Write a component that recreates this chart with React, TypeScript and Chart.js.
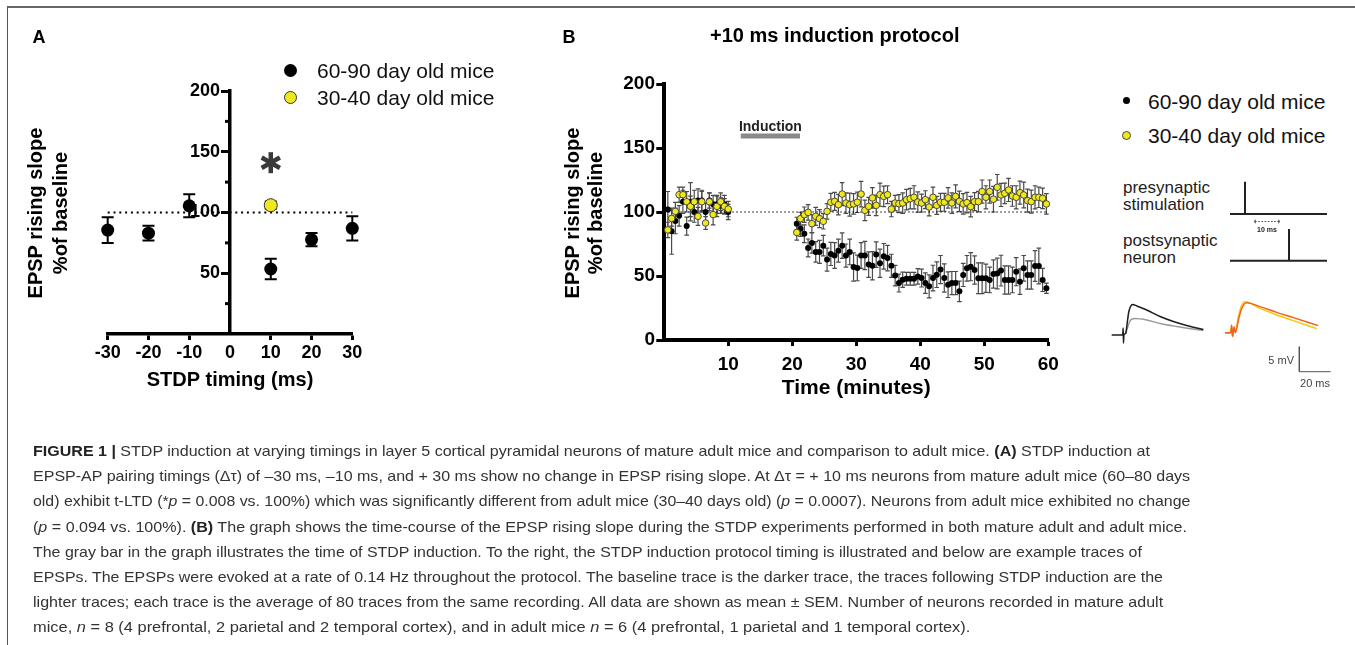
import React, { useEffect, useLayoutEffect, useRef } from 'react';
import { Chart, registerables } from 'chart.js';
Chart.register(...registerables);

const FONT = '"Liberation Sans", Arial, Helvetica, sans-serif';
const YELLOW = '#f0e81e';

// ---------- Panel A ----------
const A_TIMINGS = [-30, -20, -10, 10, 20, 30];
const A_MATURE_MEAN = [85.5, 83, 105.5, 53.5, 77.7, 87];
const A_MATURE_SEM = [10.5, 6, 9.5, 8.5, 5.5, 10];
const A_ADULT_TIMINGS = [10];
const A_ADULT_MEAN = [106];
const A_ADULT_SEM = [3];
const A_X_TICKS = [-30, -20, -10, 0, 10, 20, 30];
const A_Y_TICKS = [0, 50, 100, 150, 200];
const A_Y_MINOR = [25, 75, 125, 175];
const A_BASELINE = 100;
const A_STAR_X = 10;
const A_STAR_Y = 141;

// ---------- Panel B ----------
const B_BASE_TIMES = [0.55, 1.14, 1.73, 2.32, 2.91, 3.5, 4.09, 4.68, 5.27, 5.86, 6.45, 7.04, 7.63, 8.22, 8.81, 9.4, 9.99];
const B_MATURE_BASE = [102, 85, 93, 97, 108, 89, 108, 100, 109, 109, 100, 109, 106, 106, 105, 106, 100];
const B_MATURE_BASE_SEM = [14, 18, 10, 8, 9, 7, 15, 8, 9, 8, 7, 6, 7, 7, 6, 7, 6];
const B_ADULT_BASE = [86, 95, 100.5, 113.5, 113.5, 108, 104.4, 108, 96.6, 108, 91.4, 108, 98, 104.4, 108, 104.4, 102.3];
const B_ADULT_BASE_SEM = [6, 6, 7, 6, 6, 8, 8, 9, 7, 8, 5, 7, 8, 8, 7, 6, 6];

const B_POST_TIMES = [
  20.7, 21.29, 21.88, 22.47, 23.06, 23.66, 24.25, 24.84, 25.43, 26.02,
  26.61, 27.2, 27.79, 28.38, 28.97, 29.57, 30.16, 30.75, 31.34, 31.93,
  32.52, 33.11, 33.7, 34.29, 34.88, 35.48, 36.07, 36.66, 37.25, 37.84,
  38.43, 39.02, 39.61, 40.2, 40.79, 41.38, 41.98, 42.57, 43.16, 43.75,
  44.34, 44.93, 45.52, 46.11, 46.7, 47.29, 47.88, 48.48, 49.07, 49.66,
  50.25, 50.84, 51.43, 52.02, 52.61, 53.2, 53.79, 54.39, 54.98, 55.57,
  56.16, 56.75, 57.34, 57.93, 58.52, 59.11, 59.7,
];
const B_MATURE_POST = [
  90.9, 87, 83, 71.9, 75.8, 68.8, 68.8, 73.7, 62.8, 67.2,
  66, 69.8, 73.7, 66, 68.8, 57, 56.3, 66, 66, 58.9,
  58, 66.7, 60, 65.4, 64, 58, 50.3, 44.5, 47.1, 47.9,
  47.9, 47.9, 49.7, 48.4, 44.5, 41.9, 48.4, 51, 55, 48.4,
  43.2, 44.5, 44.5, 38, 50.8, 56, 57.3, 54.7, 48.2, 48.2,
  48.2, 46.9, 51.6, 52, 54.2, 46.9, 46.9, 46.9, 53.4, 45.6,
  56, 50.8, 50.8, 57.8, 57.8, 46.9, 40.4,
];
const B_MATURE_POST_SEM = [
  5, 6, 7, 7, 8, 8, 9, 8, 9, 9,
  10, 9, 10, 9, 10, 11, 10, 10, 11, 10,
  11, 10, 11, 10, 10, 9, 8, 7, 6, 5,
  5, 5, 6, 7, 8, 9, 10, 10, 11, 11,
  10, 9, 9, 8, 9, 10, 11, 11, 12, 12,
  11, 10, 11, 12, 12, 11, 11, 10, 11, 10,
  10, 11, 11, 12, 14, 9, 4,
];
const B_ADULT_POST = [
  84, 94.8, 97.9, 99.7, 90.9, 96.6, 94.8, 92.7, 100.5, 107.6,
  108.3, 105.7, 114, 107, 105.7, 106.3, 107.6, 114, 101.3, 104.4,
  111, 105.2, 113.5, 112.2, 113.5, 102.3, 107, 106.5, 107, 109.6,
  110.4, 111.5, 107.8, 107, 109.6, 103.9, 111.5, 105.2, 107.6, 107.6,
  111, 107, 112.2, 108.3, 106.3, 107.3, 104.2, 108.1, 108.1, 116,
  111.5, 116, 110, 119.3, 113.3, 114.6, 117.2, 112.5, 111.5, 115.1,
  113.3, 108.9, 108.1, 111.5, 111.5, 110.7, 106.3,
];
const B_ADULT_POST_SEM = [
  6, 5, 6, 6, 7, 7, 7, 6, 6, 7,
  7, 8, 9, 8, 9, 8, 8, 10, 8, 7,
  8, 8, 9, 8, 7, 6, 6, 7, 8, 8,
  8, 9, 8, 7, 7, 7, 8, 7, 7, 7,
  8, 8, 9, 8, 8, 8, 8, 7, 8, 9,
  9, 9, 10, 10, 9, 8, 9, 8, 9, 9,
  10, 9, 9, 9, 8, 8, 8,
];
const B_X_TICKS = [0, 10, 20, 30, 40, 50, 60];
const B_Y_TICKS = [0, 50, 100, 150, 200];
const B_BASELINE = 100;
const B_INDUCTION_START = 11.95;
const B_INDUCTION_END = 21.2;
const B_INDUCTION_BAR_Y = 159.4;
const B_INDUCTION_LABEL_Y = 166.6;

// ---------- Example traces (ms, mV) ----------
const TR_BLACK_MS = [0, 7.0, 7.3, 7.5, 7.8, 8.9, 9.8, 10.8, 12.0, 13.4, 16.0, 22.3, 30.8, 39.3, 47.8, 58.4];
const TR_BLACK_MV = [0, 0, 1.4, -1.6, 0, 0.3, 2.2, 4.5, 5.7, 6.1, 5.8, 5.0, 3.7, 2.7, 1.9, 1.1];
const TR_GRAY_MS = [8.9, 10.0, 11.5, 13.0, 14.9, 22.3, 30.8, 41.4, 58.4];
const TR_GRAY_MV = [0.3, 1.4, 2.7, 3.2, 3.3, 3.0, 2.3, 1.7, 0.9];
const TR_ORANGE_MS = [72.2, 75.8, 76.4, 77.1, 77.9, 78.8, 80.7, 82.8, 86.0, 94.5, 105.1, 115.7, 131.6];
const TR_ORANGE_MV = [0.47, 0.47, 2.0, -0.33, 1.67, 0.47, 3.0, 5.3, 6.47, 5.67, 4.53, 3.47, 1.87];
const TR_YELLOW_MS = [72.2, 75.4, 76.0, 76.7, 77.5, 78.8, 80.7, 82.8, 84.9, 94.5, 105.1, 115.7, 130.6];
const TR_YELLOW_MV = [0.33, 0.33, 1.33, -0.2, 0.87, 0.67, 3.67, 6.0, 6.67, 5.33, 4.0, 2.87, 1.27];
const SCALE_ORIGIN_MS = 119.5;
const SCALE_ORIGIN_MV = -7.34;
const SCALE_MS = 20;
const SCALE_MV = 5;

const pts = (xs: number[], ys: number[]) => xs.map((x, i) => ({ x, y: ys[i] }));

const errorBarsPlugin = {
  id: 'errorBars',
  beforeDatasetsDraw(chart: any) {
    const { ctx } = chart;
    const ys = chart.scales.y;
    chart.data.datasets.forEach((ds: any, i: number) => {
      if (!ds.sem) return;
      const meta = chart.getDatasetMeta(i);
      ctx.save();
      ctx.strokeStyle = ds.semColor;
      ctx.lineWidth = ds.semWidth;
      meta.data.forEach((el: any, j: number) => {
        const v = ds.data[j].y;
        const e = ds.sem[j];
        const x = el.x;
        const t = ys.getPixelForValue(v + e);
        const b = ys.getPixelForValue(v - e);
        const c = ds.semCap;
        ctx.beginPath();
        ctx.moveTo(x, t); ctx.lineTo(x, b);
        ctx.moveTo(x - c, t); ctx.lineTo(x + c, t);
        ctx.moveTo(x - c, b); ctx.lineTo(x + c, b);
        ctx.stroke();
      });
      ctx.restore();
    });
  },
};

const panelAPlugin = {
  id: 'panelA',
  afterDraw(chart: any) {
    const { ctx } = chart;
    const xs = chart.scales.x;
    const ys = chart.scales.y;
    const x0 = xs.getPixelForValue(0);
    ctx.save();
    ctx.strokeStyle = '#000';
    ctx.lineWidth = 3;
    A_Y_MINOR.forEach((v) => {
      const y = ys.getPixelForValue(v);
      ctx.beginPath();
      ctx.moveTo(x0, y);
      ctx.lineTo(x0 - 5, y);
      ctx.stroke();
    });
    // asterisk
    const sx = xs.getPixelForValue(A_STAR_X);
    const sy = ys.getPixelForValue(A_STAR_Y);
    ctx.strokeStyle = '#3a3a3a';
    ctx.lineWidth = 4.5;
    [90, 30, 150].forEach((deg) => {
      const r = (deg * Math.PI) / 180;
      const dx = Math.cos(r) * 10.5;
      const dy = Math.sin(r) * 10.5;
      ctx.beginPath();
      ctx.moveTo(sx - dx, sy - dy);
      ctx.lineTo(sx + dx, sy + dy);
      ctx.stroke();
    });
    ctx.restore();
  },
};

const panelBPlugin = {
  id: 'panelB',
  afterDatasetsDraw(chart: any) {
    const { ctx } = chart;
    const xs = chart.scales.x;
    const ys = chart.scales.y;
    ctx.save();
    ctx.strokeStyle = '#8a8a8a';
    ctx.lineWidth = 5;
    const by = ys.getPixelForValue(B_INDUCTION_BAR_Y);
    ctx.beginPath();
    ctx.moveTo(xs.getPixelForValue(B_INDUCTION_START), by);
    ctx.lineTo(xs.getPixelForValue(B_INDUCTION_END), by);
    ctx.stroke();
    ctx.fillStyle = '#222';
    ctx.font = `bold 14px ${FONT}`;
    ctx.textAlign = 'center';
    ctx.textBaseline = 'middle';
    ctx.fillText('Induction', xs.getPixelForValue((B_INDUCTION_START + B_INDUCTION_END) / 2), ys.getPixelForValue(B_INDUCTION_LABEL_Y));
    ctx.restore();
  },
};

function hideZero(c: any) {
  return c.tick && c.tick.value === 0 ? 'rgba(0,0,0,0)' : '#000';
}

function configA(): any {
  return {
    type: 'scatter',
    data: {
      datasets: [
        {
          label: '30-40 day old mice',
          data: pts(A_ADULT_TIMINGS, A_ADULT_MEAN),
          sem: A_ADULT_SEM, semColor: '#000', semWidth: 2, semCap: 6,
          pointRadius: 6.5, pointBackgroundColor: YELLOW, pointBorderColor: '#333', pointBorderWidth: 1, clip: false,
        },
        {
          label: '60-90 day old mice',
          data: pts(A_TIMINGS, A_MATURE_MEAN),
          sem: A_MATURE_SEM, semColor: '#000', semWidth: 2, semCap: 6,
          pointRadius: 6.5, pointBackgroundColor: '#000', pointBorderColor: '#000', pointBorderWidth: 0, clip: false,
        },
        {
          label: 'baseline',
          data: [{ x: A_X_TICKS[0], y: A_BASELINE }, { x: A_X_TICKS[A_X_TICKS.length - 1], y: A_BASELINE }],
          showLine: true, borderColor: '#000', borderWidth: 2.2, borderDash: [2, 3.8], pointRadius: 0, clip: false,
        },
      ],
    },
    options: {
      responsive: false, animation: false, events: [],
      layout: { padding: { left: 107.7, right: 67.7, top: 91, bottom: 0 } },
      plugins: { legend: { display: false }, tooltip: { enabled: false } },
      scales: {
        x: {
          type: 'linear', position: 'bottom', min: -30, max: 30,
          afterBuildTicks: (s: any) => { s.ticks = A_X_TICKS.map((v) => ({ value: v })); },
          afterFit: (s: any) => { s.height = 66; },
          border: { display: true, width: 3.5, color: '#000' },
          grid: { display: true, drawOnChartArea: false, drawTicks: true, tickLength: 6, tickWidth: 3, tickColor: hideZero },
          ticks: { font: { family: FONT, size: 18, weight: 'bold' }, color: '#000', padding: 2, maxRotation: 0, autoSkip: false },
          title: { display: true, text: 'STDP timing (ms)', font: { family: FONT, size: 20, weight: 'bold' }, color: '#000', padding: { top: 0, bottom: 8 } },
        },
        y: {
          type: 'linear', position: { x: 0 }, min: 0, max: 200,
          afterBuildTicks: (s: any) => { s.ticks = A_Y_TICKS.map((v) => ({ value: v })); },
          border: { display: true, width: 3.5, color: '#000' },
          grid: { display: true, drawOnChartArea: false, drawTicks: true, tickLength: 7, tickWidth: 3, tickColor: hideZero },
          // the axis sits at x = 0, so the label gap to the axis is made with two trailing spaces
          ticks: { callback: (v: any) => (v === 0 ? '' : String(v) + '  '), font: { family: FONT, size: 18, weight: 'bold' }, color: '#000', padding: 3, autoSkip: false },
        },
      },
    },
    plugins: [errorBarsPlugin, panelAPlugin],
  };
}

function configB(): any {
  return {
    type: 'scatter',
    data: {
      datasets: [
        {
          label: '30-40 day old mice',
          data: pts(B_BASE_TIMES.concat(B_POST_TIMES), B_ADULT_BASE.concat(B_ADULT_POST)),
          sem: B_ADULT_BASE_SEM.concat(B_ADULT_POST_SEM), semColor: '#4a4a4a', semWidth: 1.2, semCap: 2.3,
          pointRadius: 3.3, pointBackgroundColor: YELLOW, pointBorderColor: '#3a3a3a', pointBorderWidth: 0.9, clip: false,
        },
        {
          label: '60-90 day old mice',
          data: pts(B_BASE_TIMES.concat(B_POST_TIMES), B_MATURE_BASE.concat(B_MATURE_POST)),
          sem: B_MATURE_BASE_SEM.concat(B_MATURE_POST_SEM), semColor: '#4a4a4a', semWidth: 1.2, semCap: 2.3,
          pointRadius: 3.0, pointBackgroundColor: '#000', pointBorderColor: '#000', pointBorderWidth: 0, clip: false,
        },
        {
          label: 'baseline',
          data: [{ x: B_X_TICKS[0], y: B_BASELINE }, { x: B_X_TICKS[B_X_TICKS.length - 1], y: B_BASELINE }],
          showLine: true, borderColor: '#000', borderWidth: 1, borderDash: [1.5, 2.5], pointRadius: 0, clip: false,
        },
      ],
    },
    options: {
      responsive: false, animation: false, events: [],
      layout: { padding: { left: 104.3, right: 31.7, top: 64, bottom: 0 } },
      plugins: { legend: { display: false }, tooltip: { enabled: false } },
      scales: {
        x: {
          type: 'linear', position: 'bottom', min: 0, max: 60,
          afterBuildTicks: (s: any) => { s.ticks = B_X_TICKS.map((v) => ({ value: v })); },
          afterFit: (s: any) => { s.height = 65; },
          border: { display: true, width: 4, color: '#000' },
          grid: { display: true, drawOnChartArea: false, drawTicks: true, tickLength: 6, tickWidth: 3, tickColor: hideZero },
          ticks: { callback: (v: any) => (v === 0 ? '' : String(v)), font: { family: FONT, size: 19, weight: 'bold' }, color: '#000', padding: 7, maxRotation: 0, autoSkip: false },
          title: { display: true, text: 'Time (minutes)', font: { family: FONT, size: 21, weight: 'bold' }, color: '#000', padding: { top: 0, bottom: 4.4 } },
        },
        y: {
          type: 'linear', position: 'left', min: 0, max: 200,
          afterBuildTicks: (s: any) => { s.ticks = B_Y_TICKS.map((v) => ({ value: v })); },
          afterFit: (s: any) => { s.width = 60; },
          border: { display: true, width: 4, color: '#000' },
          grid: { display: true, drawOnChartArea: false, drawTicks: true, tickLength: 8, tickWidth: 3, tickColor: '#000' },
          ticks: { font: { family: FONT, size: 19, weight: 'bold' }, color: '#000', padding: 1.3, autoSkip: false },
        },
      },
    },
    plugins: [errorBarsPlugin, panelBPlugin],
  };
}

function configTraces(): any {
  const line = (data: any[], color: string, width: number, smooth: boolean) => ({
    data, showLine: true, borderColor: color, borderWidth: width, pointRadius: 0, clip: false,
    cubicInterpolationMode: smooth ? 'monotone' : 'default', tension: 0,
  });
  return {
    type: 'scatter',
    data: {
      datasets: [
        line(pts(TR_BLACK_MS, TR_BLACK_MV), '#1e1e1e', 1.5, true),
        line(pts(TR_GRAY_MS, TR_GRAY_MV), '#9a9a9a', 1.5, true),
        line(pts(TR_ORANGE_MS, TR_ORANGE_MV), '#f0621c', 1.5, true),
        line(pts(TR_YELLOW_MS, TR_YELLOW_MV), '#f8c80a', 1.5, true),
        line([
          { x: SCALE_ORIGIN_MS, y: SCALE_ORIGIN_MV + SCALE_MV },
          { x: SCALE_ORIGIN_MS, y: SCALE_ORIGIN_MV },
          { x: SCALE_ORIGIN_MS + SCALE_MS, y: SCALE_ORIGIN_MV },
        ], '#555', 1, false),
      ],
    },
    options: {
      responsive: false, animation: false, events: [],
      layout: { padding: { left: 11.7, right: 8.5, top: 7.5, bottom: 10 } },
      plugins: { legend: { display: false }, tooltip: { enabled: false } },
      scales: {
        x: { type: 'linear', min: 0, max: 140, display: false },
        y: { type: 'linear', min: -9, max: 7.5, display: false },
      },
    },
  };
}

function ChartCanvas(props: { left: number; top: number; width: number; height: number; make: () => any }) {
  const ref = useRef<HTMLCanvasElement>(null);
  useEffect(() => {
    const chart = new Chart(ref.current as HTMLCanvasElement, props.make());
    return () => chart.destroy();
  }, []);
  return (
    <canvas
      ref={ref}
      width={props.width}
      height={props.height}
      style={{ position: 'absolute', left: props.left, top: props.top, width: props.width, height: props.height }}
    />
  );
}

function Txt(props: { x: number; y: number; size: number; bold?: boolean; align?: 'left' | 'center' | 'right'; color?: string; rotate?: boolean; family?: string; children: any }) {
  const tx = props.align === 'left' ? '0' : props.align === 'right' ? '-100%' : '-50%';
  return (
    <div
      style={{
        position: 'absolute', left: props.x, top: props.y, whiteSpace: 'nowrap', lineHeight: 1,
        fontFamily: props.family || FONT, fontSize: props.size, fontWeight: props.bold ? 'bold' : 'normal',
        color: props.color || '#000',
        transform: props.rotate ? 'translate(-50%,-50%) rotate(-90deg)' : `translate(${tx},-50%)`,
      }}
    >
      {props.children}
    </div>
  );
}

function Dot(props: { x: number; y: number; d: number; fill: string; border?: string }) {
  return (
    <div
      style={{
        position: 'absolute', left: props.x - props.d / 2, top: props.y - props.d / 2, width: props.d, height: props.d,
        borderRadius: '50%', background: props.fill, boxSizing: 'border-box',
        border: props.border ? `1px solid ${props.border}` : 'none',
      }}
    />
  );
}

const CAPTION_LINES: any[] = [
  <><b style={{ color: '#222' }}>FIGURE 1 |</b> STDP induction at varying timings in layer 5 cortical pyramidal neurons of mature adult mice and comparison to adult mice. <b style={{ color: '#222' }}>(A)</b> STDP induction at</>,
  <>EPSP-AP pairing timings (Δτ) of –30 ms, –10 ms, and + 30 ms show no change in EPSP rising slope. At Δτ = + 10 ms neurons from mature adult mice (60–80 days</>,
  <>old) exhibit t-LTD (*<i>p</i> = 0.008 vs. 100%) which was significantly different from adult mice (30–40 days old) (<i>p</i> = 0.0007). Neurons from adult mice exhibited no change</>,
  <>(<i>p</i> = 0.094 vs. 100%). <b style={{ color: '#222' }}>(B)</b> The graph shows the time-course of the EPSP rising slope during the STDP experiments performed in both mature adult and adult mice.</>,
  <>The gray bar in the graph illustrates the time of STDP induction. To the right, the STDP induction protocol timing is illustrated and below are example traces of</>,
  <>EPSPs. The EPSPs were evoked at a rate of 0.14 Hz throughout the protocol. The baseline trace is the darker trace, the traces following STDP induction are the</>,
  <>lighter traces; each trace is the average of 80 traces from the same recording. All data are shown as mean ± SEM. Number of neurons recorded in mature adult</>,
  <>mice, <i>n</i> = 8 (4 prefrontal, 2 parietal and 2 temporal cortex), and in adult mice <i>n</i> = 6 (4 prefrontal, 1 parietal and 1 temporal cortex).</>,
];
const CAPTION_RIGHT = [1150, 1190, 1190, 1187, 1142, 1163, 1163, 970];
const CAPTION_LEFT = 33;

function Caption() {
  const refs = useRef<(HTMLDivElement | null)[]>([]);
  useLayoutEffect(() => {
    refs.current.forEach((el, i) => {
      if (!el) return;
      const w = el.offsetWidth;
      const s = (CAPTION_RIGHT[i] - CAPTION_LEFT) / w;
      el.style.transform = `translateY(-50%) scaleX(${s})`;
    });
  }, []);
  return (
    <>
      {CAPTION_LINES.map((c, i) => (
        <div
          key={i}
          ref={(el) => { refs.current[i] = el; }}
          style={{
            position: 'absolute', left: CAPTION_LEFT, top: 450 + i * 25.2, width: 'max-content', whiteSpace: 'nowrap',
            fontFamily: FONT, fontSize: 15, lineHeight: 1, color: '#333', transformOrigin: 'left center',
            transform: 'translateY(-50%)',
          }}
        >
          {c}
        </div>
      ))}
    </>
  );
}

export default function App() {
  return (
    <div style={{ position: 'absolute', left: 0, top: 0, width: 1355, height: 645, background: '#fff', overflow: 'hidden' }}>
      <div style={{ position: 'absolute', left: 7, top: 6, width: 1360, height: 660, borderTop: '2px solid #666', borderLeft: '1.5px solid #555' }} />

      <ChartCanvas left={0} top={0} width={420} height={400} make={configA} />
      <ChartCanvas left={500} top={20} width={580} height={385} make={configB} />
      <ChartCanvas left={1100} top={290} width={240} height={100} make={configTraces} />

      {/* Panel A texts */}
      <Txt x={39} y={36.7} size={18} bold>A</Txt>
      <Txt x={35} y={212.7} size={20} bold rotate>EPSP rising slope</Txt>
      <Txt x={60} y={212.5} size={20} bold rotate>%of baseline</Txt>
      <Dot x={290} y={70} d={13} fill="#000" />
      <Dot x={290} y={97.3} d={13} fill={YELLOW} border="#333" />
      <Txt x={317} y={70} size={21} align="left" color="#111">60-90 day old mice</Txt>
      <Txt x={317} y={97.3} size={21} align="left" color="#111">30-40 day old mice</Txt>

      {/* Panel B texts */}
      <Txt x={569} y={36.7} size={18} bold>B</Txt>
      <Txt x={710} y={35} size={20} bold align="left">+10 ms induction protocol</Txt>
      <Txt x={572} y={213} size={20} bold rotate>EPSP rising slope</Txt>
      <Txt x={595} y={213} size={20} bold rotate>%of baseline</Txt>
      <Dot x={1126.7} y={100.7} d={7.5} fill="#000" />
      <Dot x={1126.7} y={135} d={9} fill={YELLOW} border="#444" />
      <Txt x={1148} y={101} size={21} align="left" color="#111">60-90 day old mice</Txt>
      <Txt x={1148} y={135} size={21} align="left" color="#111">30-40 day old mice</Txt>

      {/* protocol schematic */}
      <Txt x={1123} y={186.7} size={17} align="left" color="#222">presynaptic</Txt>
      <Txt x={1123} y={204} size={17} align="left" color="#222">stimulation</Txt>
      <Txt x={1123} y={240} size={17} align="left" color="#222">postsynaptic</Txt>
      <Txt x={1123} y={257} size={17} align="left" color="#222">neuron</Txt>
      <svg width={1355} height={645} style={{ position: 'absolute', left: 0, top: 0 }}>
        <g stroke="#222" strokeWidth={2} fill="none">
          <line x1={1230} y1={214} x2={1327} y2={214} />
          <line x1={1245} y1={181.7} x2={1245} y2={214} />
          <line x1={1230} y1={260.7} x2={1327} y2={260.7} />
          <line x1={1289} y1={229} x2={1289} y2={260.7} />
        </g>
        <g stroke="#222" strokeWidth={0.8} fill="none">
          <line x1={1255} y1={221.5} x2={1279} y2={221.5} strokeDasharray="1.6 1.6" />
          <polyline points="1256,219.8 1254,221.5 1256,223.2" />
          <polyline points="1278,219.8 1280,221.5 1278,223.2" />
        </g>
      </svg>
      <Txt x={1267} y={228.5} size={7} bold color="#222">10 ms</Txt>
      <Txt x={1294} y={360} size={11} align="right" color="#444">5 mV</Txt>
      <Txt x={1315} y={382.7} size={11} color="#444">20 ms</Txt>

      <Caption />
    </div>
  );
}
